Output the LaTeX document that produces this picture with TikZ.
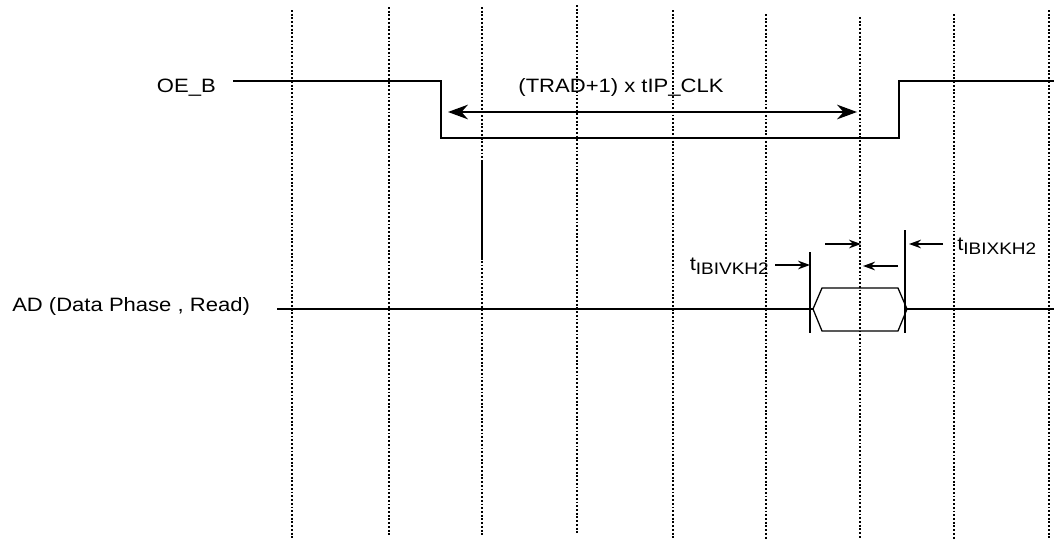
\documentclass[tikz,border=0pt]{standalone}
\usepackage{fontspec}
\setmainfont{Liberation Sans}[FakeStretch=1.14]
\usetikzlibrary{arrows.meta}

\tikzset{
  gridline/.style={line width=0.8pt,dash pattern=on 1.4pt off 1.4pt},
  signal/.style={line width=0.95pt},
  span/.style={line width=0.95pt,{Stealth[length=15pt,width=11pt]}-{Stealth[length=15pt,width=11pt]}},
  tarrow/.style={line width=0.95pt,-{Stealth[length=9pt,width=6.5pt]}},
  lbl/.style={font=\fontsize{14.5}{16}\selectfont,inner sep=0pt}
}
\newcommand{\tsub}[1]{t\raisebox{-0.45ex}{\fontsize{12.5}{14}\selectfont #1}}

\begin{document}
\begin{tikzpicture}[x=0.75pt,y=-0.75pt]
\useasboundingbox (0,0) rectangle (1054,540);

    % clock grid
    \foreach \x/\t/\b in {292/10/539, 389/7/537, 482/7/537, 577/5/534, 673/10/539,
                          766/14/539, 860/17/539, 954/14/539, 1049/10/539}
        \draw[gridline] (\x,\t) -- (\x,\b);

    % OE_B
    \node[lbl,anchor=east] (oe) at (216,88) {OE\_B};
    \coordinate (oe0) at (233,81);
    \coordinate (oe1) at (441,81);
    \coordinate (oe2) at (441,138);
    \coordinate (oe3) at (899,138);
    \coordinate (oe4) at (899,81);
    \coordinate (oe5) at (1054,81);
    \draw[signal] (oe0) -- (oe1) -- (oe2) -- (oe3) -- (oe4) -- (oe5);

    \coordinate (sl) at (448,112);
    \coordinate (sr) at (857,112);
    \draw[span] (sl) -- (sr);
    \node[lbl] (trad) at (621,87) {(TRAD+1) x tIP\_CLK};

    \coordinate (m0) at (482,160);
    \coordinate (m1) at (482,260);
    \draw[signal] (m0) -- (m1);

    % AD
    \node[lbl,anchor=west] (ad) at (12,306) {AD (Data Phase , Read)};
    \coordinate (ad0) at (277,309);
    \coordinate (dl) at (813,309);
    \coordinate (dr) at (907,309);
    \coordinate (ad1) at (1054,309);
    \draw[signal] (ad0) -- (dl);
    \draw[signal] (dl) -- (822,288) -- (898,288) -- (dr) -- (898,331) -- (822,331) -- cycle;
    \draw[signal] (dr) -- (ad1);

    \coordinate (v0) at (810,252);
    \coordinate (v1) at (810,333);
    \coordinate (x0) at (905,230);
    \coordinate (x1) at (905,333);
    \draw[signal] (v0) -- (v1);
    \draw[signal] (x0) -- (x1);

    % setup / hold
    \coordinate (a0) at (775,265);
    \coordinate (a1) at (810,265);
    \coordinate (b0) at (825,244);
    \coordinate (b1) at (861,244);
    \coordinate (c0) at (898,266);
    \coordinate (c1) at (863,266);
    \coordinate (d0) at (943,244);
    \coordinate (d1) at (909,244);
    \draw[tarrow] (a0) -- (a1);
    \draw[tarrow] (b0) -- (b1);
    \draw[tarrow] (c0) -- (c1);
    \draw[tarrow] (d0) -- (d1);

    \node[lbl,anchor=base east] (tv) at (769,270) {\tsub{IBIVKH2}};
    \node[lbl,anchor=base west] (tx) at (957,250) {\tsub{IBIXKH2}};

\end{tikzpicture}
\end{document}
